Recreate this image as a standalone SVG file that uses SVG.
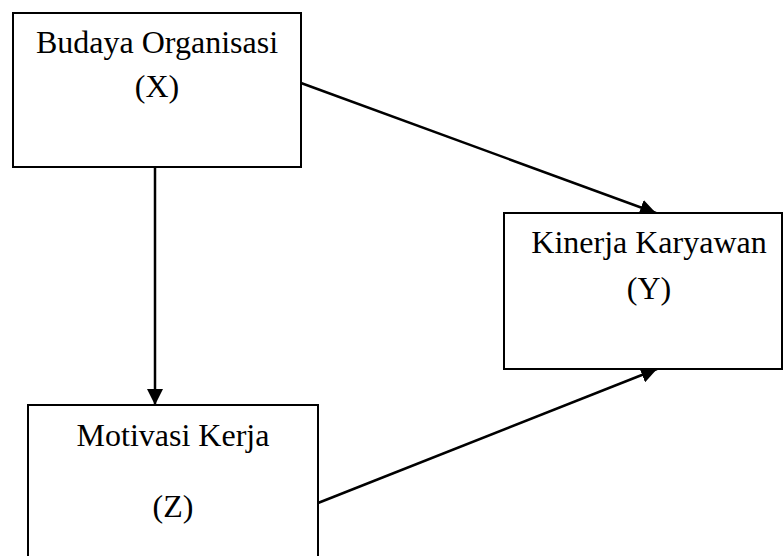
<svg xmlns="http://www.w3.org/2000/svg" width="783" height="556" viewBox="0 0 783 556">
<style>
.box{fill:#fff;stroke:#000;stroke-width:2}
.t{font-family:"Liberation Serif","Times New Roman",serif;font-size:32px;fill:#000;text-anchor:middle}
.c{stroke:#000;stroke-width:2.5;fill:none}
</style>
<defs>
<marker id="ah" viewBox="0 0 16 16" refX="16" refY="8" markerWidth="16" markerHeight="16" markerUnits="userSpaceOnUse" orient="auto">
<path d="M0,0 L16,8 L0,16 z" fill="#000"/>
</marker>
</defs>
<rect width="783" height="556" fill="#fff"/>
<g id="connectors">
<line class="c" x1="155" y1="167" x2="155" y2="405" marker-end="url(#ah)"/>
<line class="c" x1="301" y1="83" x2="656" y2="213" marker-end="url(#ah)"/>
<line class="c" x1="318" y1="503" x2="657" y2="369" marker-end="url(#ah)"/>
</g>
<g id="nodeX">
<rect class="box" x="13" y="13" width="288" height="154"/>
<text class="t" x="157" y="53">Budaya Organisasi</text>
<text class="t" x="157" y="97">(X)</text>
</g>
<g id="nodeY">
<rect class="box" x="504" y="213" width="278" height="156"/>
<text class="t" x="649" y="253">Kinerja Karyawan</text>
<text class="t" x="649" y="299">(Y)</text>
</g>
<g id="nodeZ">
<rect class="box" x="28" y="405" width="290" height="160"/>
<text class="t" x="173" y="446">Motivasi Kerja</text>
<text class="t" x="173" y="517">(Z)</text>
</g>
</svg>
